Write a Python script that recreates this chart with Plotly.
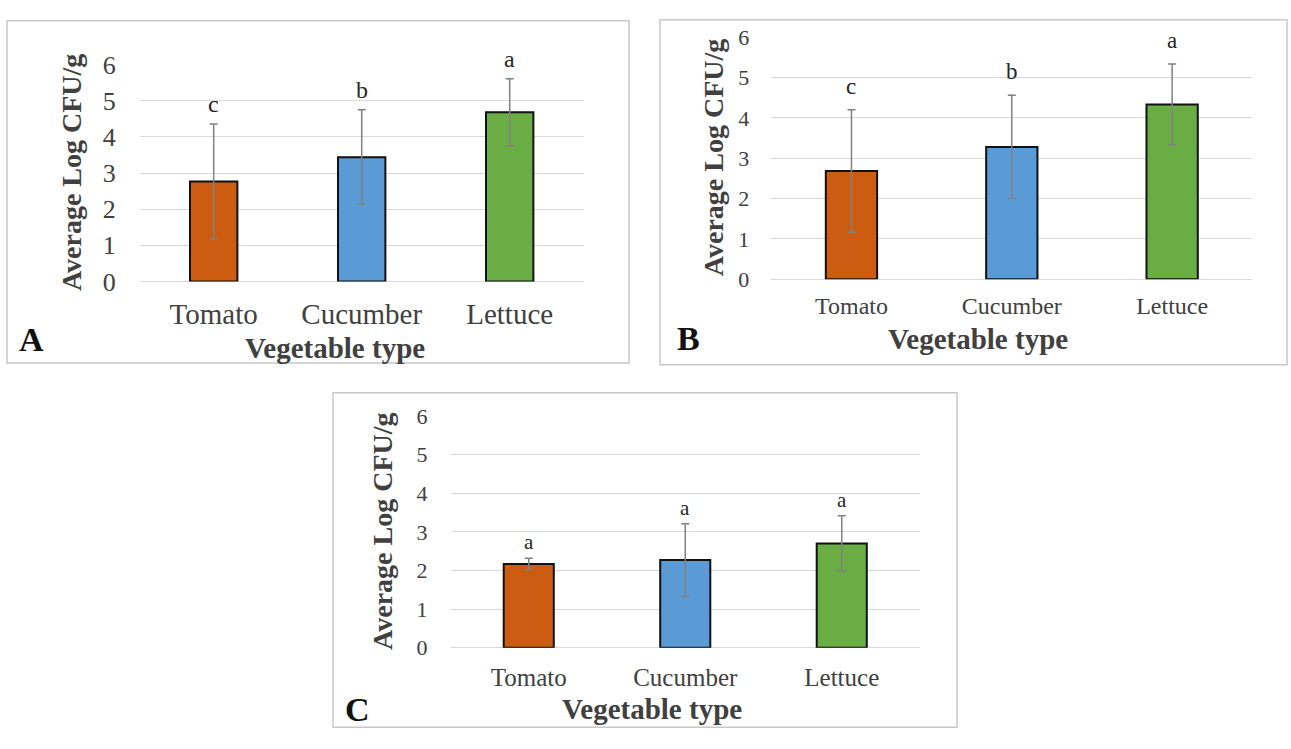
import plotly.graph_objects as go

W, H = 1291, 749

categories = ["Tomato", "Cucumber", "Lettuce"]
colors = ["#CC5C12", "#5B9BD5", "#6BAD45"]

mean_a = [2.77, 3.44, 4.68]
err_a = [1.59, 1.31, 0.93]
letters_a = ["c", "b", "a"]

mean_b = [2.68, 3.28, 4.33]
err_b = [1.52, 1.28, 1.00]
letters_b = ["c", "b", "a"]

mean_c = [2.17, 2.27, 2.70]
err_c = [0.15, 0.94, 0.72]
letters_c = ["a", "a", "a"]

y_ticks = [0, 1, 2, 3, 4, 5, 6]
y_title = "Average Log CFU/g"
x_title = "Vegetable type"
panel_labels = ["A", "B", "C"]


def px(x):
    return x / W


def py(y):
    return 1 - y / H


SERIF = "Liberation Serif, Times New Roman, serif"

panels = [
    dict(means=mean_a, errs=err_a, letters=letters_a, xd=(139.7, 583.7), yd=(52.7, 278.3),
         tick_font=26, cat_font=29, let_font=24, ystand=23, xstand=12,
         ytitle_x=71, xtitle=(335, 347), plabel=(31, 339), frame=(7, 7, 629, 363), lshift=5),
    dict(means=mean_b, errs=err_b, letters=letters_b, xd=(771.3, 1252.3), yd=(24, 276),
         tick_font=22, cat_font=24, let_font=23, ystand=21, xstand=10,
         ytitle_x=713, xtitle=(978, 338), plabel=(688, 338), frame=(660, 6, 1287, 365), lshift=9),
    dict(means=mean_c, errs=err_c, letters=letters_c, xd=(450.5, 920), yd=(418.3, 659.3),
         tick_font=22, cat_font=25, let_font=21, ystand=22, xstand=12,
         ytitle_x=383, xtitle=(652, 723), plabel=(357, 724), frame=(333, 394, 957, 742), lshift=2),
]

fig = go.Figure()
annotations = []
shapes = []
layout = {}

for i, p in enumerate(panels):
    n = "" if i == 0 else str(i + 1)
    xa, ya = "x" + n, "y" + n
    fig.add_trace(go.Bar(
        x=categories, y=p["means"], xaxis=xa, yaxis=ya,
        marker=dict(color=colors, line=dict(color="#111111", width=2)),
        error_y=dict(type="data", array=p["errs"], visible=True, color="#808080",
                     thickness=1.5, width=4),
        width=0.32, showlegend=False, hoverinfo="skip",
    ))
    layout["xaxis" + n] = dict(
        domain=[px(p["xd"][0]), px(p["xd"][1])], anchor=ya, type="category",
        range=[-0.5, 2.5], showgrid=False, showline=False, zeroline=False,
        ticks="", tickfont=dict(family=SERIF, size=p["cat_font"], color="#404040"),
        ticklabelstandoff=p["xstand"], fixedrange=True,
    )
    layout["yaxis" + n] = dict(
        domain=[py(p["yd"][1]), py(p["yd"][0])], anchor=xa, range=[0, 6],
        tickvals=y_ticks, showgrid=True, gridcolor="#D9D9D9", gridwidth=1,
        zeroline=True, zerolinecolor="#D9D9D9", zerolinewidth=1,
        showline=False, ticks="",
        tickfont=dict(family=SERIF, size=p["tick_font"], color="#404040"),
        ticklabelstandoff=p["ystand"], fixedrange=True,
    )
    for c, m, e, t in zip(categories, p["means"], p["errs"], p["letters"]):
        annotations.append(dict(
            x=c, y=m + e, xref=xa, yref=ya, text=t, showarrow=False,
            yanchor="bottom", yshift=p["lshift"],
            font=dict(family=SERIF, size=p["let_font"], color="#262626"),
        ))
    yc = (p["yd"][0] + p["yd"][1]) / 2
    annotations.append(dict(
        x=px(p["ytitle_x"]), y=py(yc), xref="paper", yref="paper", text="<b>" + y_title + "</b>",
        textangle=-90, showarrow=False, xanchor="center", yanchor="middle",
        font=dict(family=SERIF, size=28, color="#404040"),
    ))
    annotations.append(dict(
        x=px(p["xtitle"][0]), y=py(p["xtitle"][1]), xref="paper", yref="paper",
        text="<b>" + x_title + "</b>", showarrow=False, xanchor="center", yanchor="middle",
        font=dict(family=SERIF, size=29, color="#404040"),
    ))
    annotations.append(dict(
        x=px(p["plabel"][0]), y=py(p["plabel"][1]), xref="paper", yref="paper",
        text="<b>" + panel_labels[i] + "</b>", showarrow=False, xanchor="center", yanchor="middle",
        font=dict(family=SERIF, size=34, color="#111111"),
    ))
    x0, y0, x1, y1 = p["frame"]
    shapes.append(dict(type="rect", xref="paper", yref="paper",
                       x0=px(x0), x1=px(x1), y0=py(y1), y1=py(y0),
                       line=dict(color="#C8C8C8", width=1.5), layer="below"))

fig.update_layout(
    width=W, height=H, margin=dict(l=0, r=0, t=0, b=0),
    paper_bgcolor="white", plot_bgcolor="rgba(0,0,0,0)",
    annotations=annotations, shapes=shapes, bargap=0.68, **layout,
)

fig.write_html(
    "out.html",
    config={"displayModeBar": False},
    post_script="document.body.style.margin='0px';document.body.style.overflow='hidden';",
)
